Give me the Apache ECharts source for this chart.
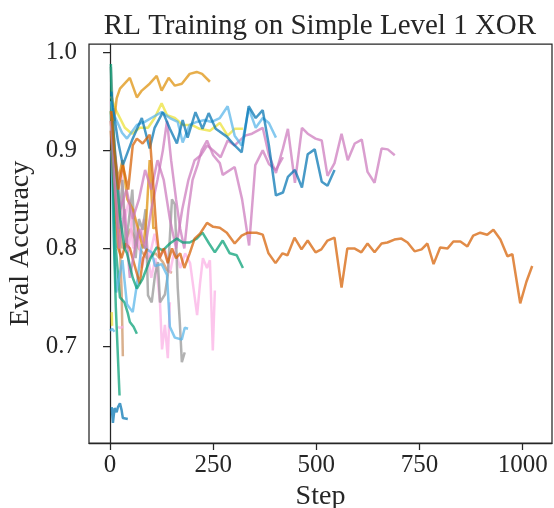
<!DOCTYPE html>
<html><head><meta charset="utf-8">
<script src="https://cdn.jsdelivr.net/npm/echarts@6/dist/echarts.min.js"></script>
<style>html,body{margin:0;padding:0;background:#fff}#c{width:554px;height:508px}</style>
</head><body><div id="c"></div>
<script>
const xTicks = [0, 250, 500, 750, 1000];
const yTicks = [0.7, 0.8, 0.9, 1.0];

const blueLong = [[3,0.96],[7,0.944],[19,0.91],[31,0.885],[53,0.91],[77,0.933],[96,0.902],[108,0.923],[128,0.939],[145,0.922],[162,0.907],[176,0.931],[188,0.913],[207,0.939],[224,0.922],[239,0.938],[256,0.922],[283,0.914],[302,0.905],[319,0.898],[336,0.945],[353,0.933],[370,0.941],[385,0.905],[402,0.854],[419,0.857],[431,0.873],[448,0.880],[465,0.862],[479,0.896],[496,0.901],[513,0.868],[527,0.864],[544,0.880]];
const lightBlueTop = [[3,0.95],[7,0.939],[29,0.918],[41,0.912],[65,0.926],[84,0.929],[104,0.934],[125,0.939],[145,0.933],[164,0.929],[176,0.908],[193,0.926],[210,0.929],[229,0.931],[246,0.929],[266,0.933],[285,0.945],[302,0.915],[319,0.905],[336,0.943],[353,0.923],[370,0.933],[385,0.928],[402,0.913]];
const orangeTop = [[4,0.94],[10,0.93],[16,0.953],[24,0.963],[48,0.974],[65,0.954],[77,0.961],[96,0.968],[113,0.976],[125,0.961],[142,0.974],[157,0.966],[174,0.968],[193,0.978],[210,0.980],[223,0.978],[242,0.970]];
const yellowTop = [[3,0.955],[12,0.943],[36,0.923],[53,0.917],[72,0.923],[92,0.923],[108,0.933],[125,0.948],[138,0.936],[157,0.933],[176,0.926],[198,0.926],[217,0.922],[242,0.920],[266,0.928],[285,0.915],[302,0.922],[322,0.922]];
const redLong = [[3,0.94],[10,0.9],[20,0.86],[31,0.885],[44,0.86],[55,0.905],[65,0.912],[79,0.907],[96,0.916],[104,0.87],[112,0.82],[120,0.79],[130,0.8],[140,0.785],[150,0.8],[160,0.79],[170,0.795],[180,0.78],[193,0.795],[205,0.81],[218,0.815],[235,0.826],[250,0.822],[266,0.821],[283,0.816],[302,0.805],[319,0.813],[334,0.816],[355,0.816],[370,0.814],[384,0.795],[401,0.785],[418,0.795],[430,0.793],[447,0.811],[464,0.799],[479,0.808],[498,0.796],[512,0.799],[527,0.808],[544,0.811],[561,0.760],[575,0.800],[592,0.800],[609,0.796],[624,0.805],[641,0.796],[658,0.805],[672,0.806],[689,0.809],[706,0.810],[721,0.806],[738,0.797],[755,0.799],[769,0.805],[784,0.784],[800,0.801],[818,0.800],[832,0.807],[849,0.807],[866,0.802],[880,0.813],[897,0.816],[914,0.814],[929,0.819],[946,0.809],[963,0.792],[975,0.794],[994,0.744],[1009,0.766],[1023,0.782]];
const purpleLong = [[3,0.94],[12,0.90],[25,0.84],[40,0.86],[55,0.83],[70,0.85],[85,0.88],[100,0.86],[115,0.89],[130,0.87],[145,0.83],[160,0.80],[175,0.84],[190,0.87],[205,0.89],[220,0.895],[235,0.905],[250,0.90],[268,0.893],[285,0.91],[302,0.905],[327,0.915],[344,0.917],[370,0.923],[385,0.895],[402,0.877],[419,0.902],[431,0.922],[448,0.867],[465,0.923],[479,0.917],[498,0.912],[513,0.910],[527,0.874],[544,0.887],[561,0.917],[576,0.890],[593,0.907],[610,0.911],[624,0.878],[641,0.867],[658,0.902],[673,0.901],[690,0.895]];
const purpleMid = [[3,0.93],[10,0.87],[22,0.8],[35,0.84],[48,0.77],[60,0.8],[72,0.82],[85,0.8],[100,0.84],[115,0.87],[128,0.9],[138,0.93],[148,0.89],[160,0.85],[170,0.82],[180,0.8],[190,0.84],[200,0.87],[212,0.885],[222,0.9],[235,0.91],[250,0.895],[266,0.887],[273,0.875],[302,0.883],[320,0.85],[337,0.803],[352,0.885],[370,0.9],[385,0.886],[402,0.88],[419,0.893]];
const greenMid = [[3,0.95],[15,0.88],[25,0.83],[35,0.80],[41,0.795],[55,0.77],[65,0.759],[79,0.769],[97,0.789],[113,0.801],[128,0.798],[145,0.805],[162,0.81],[176,0.806],[193,0.806],[210,0.81],[224,0.816],[240,0.805],[254,0.796],[273,0.808],[290,0.795],[307,0.793],[322,0.78]];
const greenDrop = [[2,0.988],[6,0.9],[10,0.8],[14,0.74],[18,0.7],[23,0.65]];
const greenShort = [[2,0.94],[8,0.86],[14,0.8],[20,0.77],[24,0.75],[35,0.745],[43,0.734],[48,0.725],[57,0.72],[65,0.713]];
const lightBlueLow = [[3,0.90],[10,0.80],[15,0.755],[30,0.788],[41,0.743],[55,0.735],[65,0.763],[77,0.804],[89,0.799],[101,0.796],[109,0.782],[125,0.784],[138,0.773],[145,0.720],[157,0.709],[174,0.707],[181,0.719],[189,0.718]];
const grayMid = [[2,0.985],[8,0.93],[14,0.87],[22,0.82],[30,0.87],[38,0.8],[46,0.83],[54,0.86],[62,0.79],[70,0.83],[79,0.819],[86,0.84],[92,0.752],[101,0.745],[109,0.773],[116,0.786],[121,0.745],[133,0.753],[140,0.773],[150,0.85],[157,0.845],[164,0.76],[169,0.725],[174,0.684],[181,0.694]];
const pinkA = [[2,0.93],[10,0.87],[20,0.82],[32,0.85],[45,0.8],[58,0.84],[70,0.8],[82,0.83],[95,0.79],[108,0.815],[120,0.79],[133,0.8],[145,0.775],[157,0.8],[170,0.78],[182,0.795],[194,0.785],[211,0.732],[218,0.764],[225,0.79],[235,0.78],[242,0.788],[249,0.696],[254,0.757]];
const pinkB = [[2,0.95],[10,0.9],[18,0.86],[27,0.88],[36,0.83],[46,0.85],[56,0.8],[66,0.82],[77,0.78],[88,0.8],[100,0.77],[110,0.79],[121,0.745],[126,0.697],[133,0.722],[140,0.688],[145,0.745]];
const pinkTiny = [[19,0.72],[24,0.719],[33,0.72]];
const blueBottom = [[4,0.638],[7,0.622],[11,0.637],[16,0.633],[19,0.638],[24,0.642],[28,0.635],[31,0.627],[43,0.626]];
const brownDrop = [[2,0.93],[10,0.88],[18,0.84],[24,0.8],[28,0.757],[31,0.69]];
const brownMid = [[2,0.93],[15,0.85],[30,0.8],[50,0.82],[70,0.8],[90,0.79],[110,0.795],[128,0.786],[138,0.778],[150,0.775]];
const orangeShort = [[2,0.94],[10,0.9],[20,0.87],[30,0.89],[42,0.85],[55,0.84],[68,0.82],[80,0.8],[88,0.83],[96,0.89],[101,0.85],[105,0.82],[108,0.822]];
const redShort = [[2,0.92],[8,0.87],[14,0.84],[20,0.8],[28,0.79],[38,0.805],[48,0.8],[58,0.785],[72,0.764],[80,0.79],[90,0.8]];
const lightBlueTiny = [[0,0.716],[5,0.718],[11,0.715]];
const yellowTiny = [[4,0.735],[5,0.721]];

const C = {blue:'#0173b2', orange:'#de8f05', green:'#029e73', red:'#d55e00', purple:'#cc78bc', brown:'#ca9161', pink:'#fbafe4', gray:'#949494', yellow:'#ece133', lightblue:'#56b4e9'};

const lines = [
  [blueBottom, C.blue], [brownDrop, C.brown], [brownMid, C.brown], [greenShort, C.green],
  [pinkB, C.pink], [pinkA, C.pink], [pinkTiny, C.pink], [grayMid, C.gray], [lightBlueLow, C.lightblue],
  [orangeShort, C.orange], [redShort, C.red], [greenDrop, C.green], [yellowTiny, C.yellow], [lightBlueTiny, C.lightblue],
  [purpleMid, C.purple], [purpleLong, C.purple], [greenMid, C.green], [yellowTop, C.yellow],
  [orangeTop, C.orange], [lightBlueTop, C.lightblue], [blueLong, C.blue], [redLong, C.red]
];

const font = '"Liberation Serif","Times New Roman",serif';
const ink = '#262626';
const chart = echarts.init(document.getElementById('c'));
chart.setOption({
  animation: false,
  title: {text: 'RL Training on Simple Level 1 XOR', left: 320, top: 12, padding: 0, textAlign: 'center',
    textStyle: {fontFamily: font, fontSize: 29, fontWeight: 'normal', color: ink}},
  grid: {left: 89, right: 2, top: 44, bottom: 65, show: true, borderColor: ink, borderWidth: 1.25,
    containLabel: false, outerBoundsMode: 'none'},
  xAxis: {type: 'value', min: -51, max: 1071, name: 'Step', nameLocation: 'middle', nameGap: 34,
    nameTextStyle: {fontFamily: font, fontSize: 28, color: ink},
    axisLine: {show: true, lineStyle: {color: ink, width: 1.25}},
    axisTick: {show: true, length: 7, lineStyle: {color: ink, width: 1.25}, customValues: xTicks},
    axisLabel: {fontFamily: font, fontSize: 25, color: ink, margin: 10, customValues: xTicks, formatter: v => String(v)},
    splitLine: {show: false}},
  yAxis: {type: 'value', min: 0.6015, max: 1.0085, name: 'Eval Accuracy', nameLocation: 'middle', nameGap: 42, nameRotate: 90,
    nameTextStyle: {fontFamily: font, fontSize: 28, color: ink},
    axisLine: {show: true, lineStyle: {color: ink, width: 1.25}},
    axisTick: {show: true, length: 7, lineStyle: {color: ink, width: 1.25}, customValues: yTicks},
    axisLabel: {fontFamily: font, fontSize: 25, color: ink, margin: 12, customValues: yTicks, formatter: v => v.toFixed(1)},
    splitLine: {show: false}},
  series: lines.map(([d, col]) => ({type: 'line', data: d, showSymbol: false, silent: true,
    lineStyle: {color: col, width: 2.5, opacity: 0.72}, itemStyle: {color: col}}))
});
</script></body></html>
